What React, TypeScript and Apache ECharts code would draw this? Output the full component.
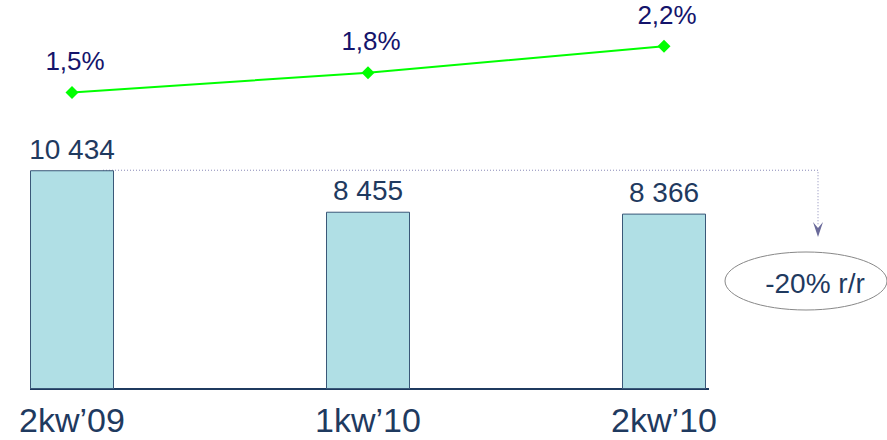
import React, { useEffect, useRef } from "react";
import * as echarts from "echarts";

const categories = ["2kw\u201909", "1kw\u201910", "2kw\u201910"];
const barValues = [10434, 8455, 8366];
const barLabels = ["10 434", "8 455", "8 366"];
const rateValues = [1.5, 1.8, 2.2];
const rateLabels = ["1,5%", "1,8%", "2,2%"];
const changeLabel = "-20% r/r";

const FONT = "'Liberation Sans', Arial, sans-serif";
const NAVY = "#1f3a5f";
const BAR_W = 84;

export default function App() {
  const ref = useRef<HTMLDivElement>(null);
  useEffect(() => {
    document.body.style.margin = "0";
    const chart = echarts.init(ref.current!, null, { renderer: "svg" });
    chart.setOption({
      animation: false,
      grid: { left: 72, right: 223, top: 20, bottom: 51 },
      xAxis: {
        type: "category",
        data: categories,
        boundaryGap: false,
        axisLine: { show: false },
        axisTick: { show: false },
        axisLabel: { fontSize: 34, lineHeight: 33, color: NAVY, fontFamily: FONT, margin: 14 },
        splitLine: { show: false },
      },
      yAxis: [
        { type: "value", min: 0, max: 17600, show: false, splitLine: { show: false } },
        { type: "value", min: -3, max: 2.6, show: false, splitLine: { show: false } },
      ],
      series: [
        {
          type: "bar",
          data: barValues,
          barWidth: BAR_W,
          yAxisIndex: 0,
          itemStyle: { color: "#b0dfe5", borderColor: "#3a5878", borderWidth: 1 },
          label: {
            show: true,
            position: "top",
            distance: 7,
            fontSize: 28,
            color: NAVY,
            fontFamily: FONT,
            formatter: (p: any) => barLabels[p.dataIndex],
          },
        },
        {
          type: "line",
          data: rateValues,
          yAxisIndex: 1,
          symbol: "diamond",
          symbolSize: 13,
          lineStyle: { color: "#00ff00", width: 2 },
          itemStyle: { color: "#00ff00" },
          label: {
            show: true,
            position: "top",
            distance: 12,
            offset: [3, 0],
            fontSize: 26,
            color: "#14146b",
            fontFamily: FONT,
            formatter: (p: any) => rateLabels[p.dataIndex],
          },
        },
      ],
    });

    const p0 = chart.convertToPixel({ seriesIndex: 0 }, [0, barValues[0]]) as number[];
    const base0 = chart.convertToPixel({ seriesIndex: 0 }, [0, 0]) as number[];
    const p2 = chart.convertToPixel({ seriesIndex: 0 }, [2, 0]) as number[];
    const arrowX = 818;
    const lineColor = "#8a8ab8";
    chart.setOption({
      graphic: [
        {
          type: "line",
          shape: { x1: base0[0] - BAR_W / 2, y1: base0[1], x2: p2[0] + BAR_W / 2 + 3, y2: base0[1] },
          style: { stroke: NAVY, lineWidth: 2 },
        },
        {
          type: "polyline",
          shape: { points: [[p0[0] + 31, p0[1]], [arrowX, p0[1]], [arrowX, 226]] },
          style: { stroke: lineColor, lineWidth: 1, lineDash: [1, 2], fill: null },
        },
        {
          type: "polygon",
          shape: { points: [[813, 222], [818, 228], [823, 222], [818, 237]] },
          style: { fill: "#6a6a9a" },
        },
        {
          type: "ellipse",
          shape: { cx: 806, cy: 281, rx: 81, ry: 29 },
          style: { fill: "none", stroke: "#888888", lineWidth: 1 },
        },
        {
          type: "text",
          x: 815,
          y: 283,
          style: {
            text: changeLabel,
            fontSize: 28,
            fill: NAVY,
            fontFamily: FONT,
            align: "center",
            verticalAlign: "middle",
          },
        },
      ],
    });
    return () => chart.dispose();
  }, []);
  return <div ref={ref} style={{ width: 887, height: 440 }} />;
}
